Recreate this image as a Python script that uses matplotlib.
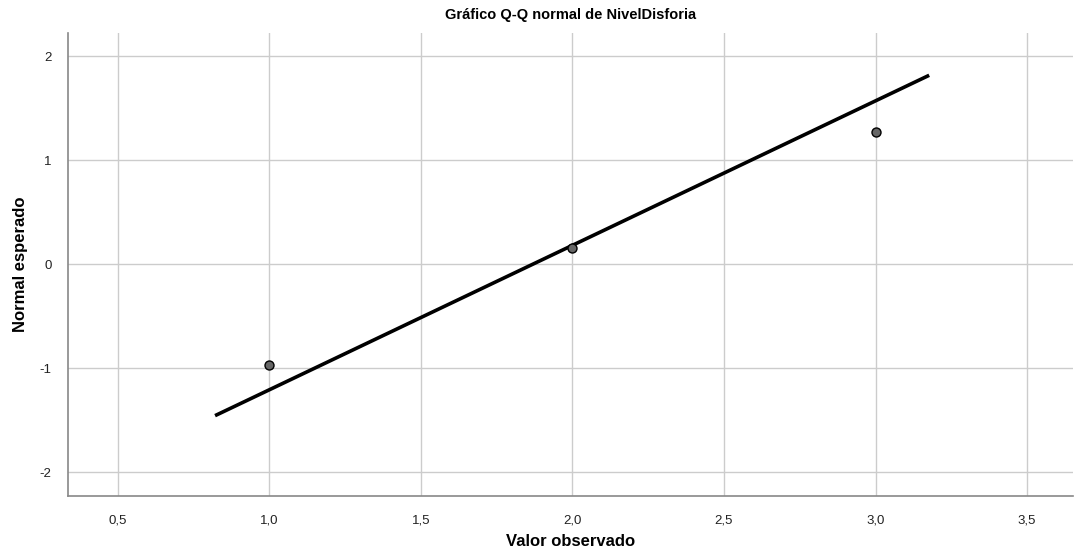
import matplotlib
matplotlib.use("Agg")
import matplotlib.pyplot as plt
from matplotlib.ticker import FuncFormatter

# observed values and expected normal scores
observed = [1.0, 2.0, 3.0]
expected = [-0.968, 0.160, 1.267]
# reference line endpoints
line_x = [0.821, 3.177]
line_y = [-1.455, 1.815]

xticks = [0.5, 1.0, 1.5, 2.0, 2.5, 3.0, 3.5]
yticks = [-2, -1, 0, 1, 2]

plt.rcParams['font.family'] = ['Liberation Sans', 'DejaVu Sans']

fig = plt.figure(figsize=(10.75, 5.56), dpi=100)
ax = fig.add_axes([0.0633, 0.1079, 0.9347, 0.8327])

ax.plot(line_x, line_y, color='black', lw=2.6, solid_capstyle='butt', zorder=3)
ax.scatter(observed, expected, s=42, facecolor='#666666', edgecolor='black', linewidth=1.0, zorder=4)

ax.set_xlim(0.336, 3.651)
ax.set_ylim(-2.227, 2.221)
ax.set_xticks(xticks)
ax.set_yticks(yticks)
ax.xaxis.set_major_formatter(FuncFormatter(lambda v, p: f"{v:.1f}".replace('.', ',')))
ax.yaxis.set_major_formatter(FuncFormatter(lambda v, p: f"{v:.0f}"))
ax.grid(True, color='#cccccc', lw=1.0)
ax.set_axisbelow(True)

for s in ['top', 'right']:
    ax.spines[s].set_visible(False)
for s in ['left', 'bottom']:
    ax.spines[s].set_color('#888888')
    ax.spines[s].set_linewidth(1.2)
ax.tick_params(length=0, labelsize=9.5, colors='#222222')
ax.tick_params(axis='x', pad=13)
ax.tick_params(axis='y', pad=12)

ax.set_title('Gráfico Q-Q normal de NivelDisforia', fontsize=10.5, fontweight='bold', pad=10)
ax.set_xlabel('Valor observado', fontsize=12, fontweight='bold', labelpad=6)
ax.set_ylabel('Normal esperado', fontsize=12, fontweight='bold', labelpad=8)

fig.savefig('out.png', dpi=100)
